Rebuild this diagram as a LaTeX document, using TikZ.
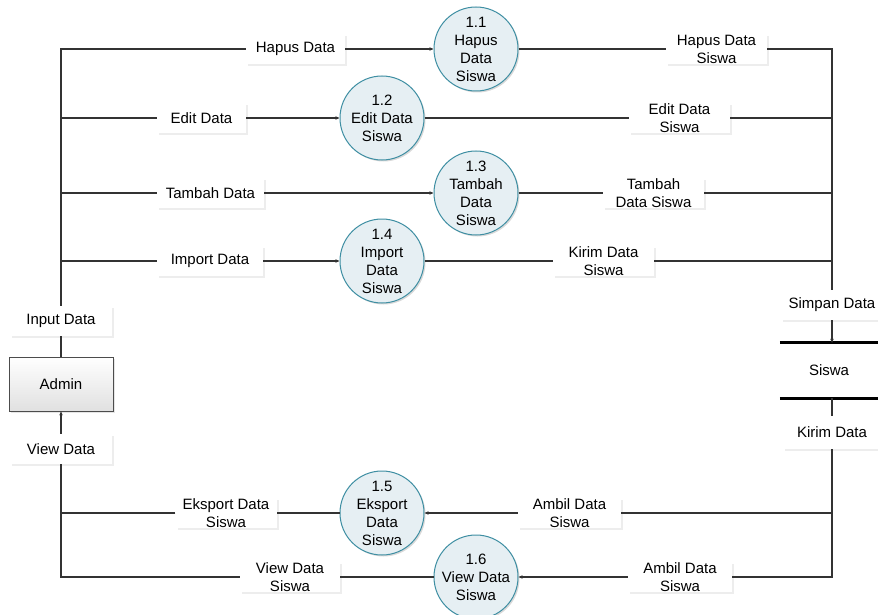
\documentclass[tikz,border=0pt]{standalone}
\usepackage{fontspec}
\setmainfont{Liberation Sans}
\usetikzlibrary{shadows,arrows.meta}
\definecolor{cfill}{HTML}{E6EFF3}
\definecolor{cdraw}{HTML}{3F8FA3}
\definecolor{lnc}{HTML}{333333}
\begin{document}
\begin{tikzpicture}[x=1pt,y=-1pt,font=\fontsize{15}{18}\selectfont,
  proc/.style={circle,fill=cfill,draw=cdraw,line width=1pt,minimum size=84pt,inner sep=0pt,align=center,
    drop shadow={shadow xshift=1.5pt,shadow yshift=-1.5pt,fill=black!15,opacity=1}},
  lbl/.style={fill=white,inner sep=0pt,minimum height=30pt,align=center,
    drop shadow={shadow xshift=2pt,shadow yshift=-2pt,fill=black!7,opacity=1}},
  flow/.style={draw=lnc,line width=1.1pt},
  arr/.style={flow,-{Stealth[length=4pt,width=3.5pt]}},
  ent/.style={draw=black!70,line width=0.8pt,top color=white,bottom color=black!12,minimum width=104pt,minimum height=54pt,
    drop shadow={shadow xshift=1.5pt,shadow yshift=-1.5pt,fill=black!10,opacity=1}}]
\useasboundingbox (0,0) rectangle (878,615);

% coordinates
\coordinate (cL1) at (61,49);
\coordinate (cL2) at (61,118);
\coordinate (cL3) at (61,193);
\coordinate (cL4) at (61,261);
\coordinate (cL5) at (61,513);
\coordinate (cL6) at (61,577);
\coordinate (cR1) at (832,49);
\coordinate (cR2) at (832,118);
\coordinate (cR3) at (832,193);
\coordinate (cR4) at (832,261);
\coordinate (cR5) at (832,513);
\coordinate (cR6) at (832,577);

% processes
\node[proc] (c11) at (476,49) {1.1\\Hapus\\Data\\Siswa};
\node[proc] (c12) at (382,118) {1.2\\Edit Data\\Siswa};
\node[proc] (c13) at (476,193) {1.3\\Tambah\\Data\\Siswa};
\node[proc] (c14) at (382,261) {1.4\\Import\\Data\\Siswa};
\node[proc] (c15) at (382,513) {1.5\\Eksport\\Data\\Siswa};
\node[proc] (c16) at (476,577) {1.6\\View Data\\Siswa};

% entity
\node[ent] (admin) at (61,384) {Admin};

% data store
\node[minimum width=98pt,minimum height=55pt,inner sep=0pt] (store) at (829,370.5) {Siswa};
\draw[line width=3pt] (store.north west) -- (store.north east);
\draw[line width=3pt] (store.south west) -- (store.south east);

% labels
\node[lbl,minimum width=99pt] (lHapus) at (295.5,49) {Hapus Data};
\node[lbl,minimum width=89pt] (lEdit) at (201.5,118) {Edit Data};
\node[lbl,minimum width=107pt] (lTambah) at (210.5,193) {Tambah Data};
\node[lbl,minimum width=106pt] (lImport) at (210,261) {Import Data};
\node[lbl,minimum width=102pt] (lInput) at (61,321) {Input Data};
\node[lbl,minimum width=102pt] (lView) at (61,449) {View Data};
\node[lbl,minimum width=101pt] (lEks) at (226,513) {Eksport Data\\Siswa};
\node[lbl,minimum width=100pt] (lViewS) at (290,577) {View Data\\Siswa};
\node[lbl,minimum width=101pt] (lHapusS) at (716.5,49) {Hapus Data\\Siswa};
\node[lbl,minimum width=101pt] (lEditS) at (679.5,118) {Edit Data\\Siswa};
\node[lbl,minimum width=101pt] (lTambahS) at (653.5,193) {Tambah\\Data Siswa};
\node[lbl,minimum width=101pt] (lKirimS) at (603.5,261) {Kirim Data\\Siswa};
\node[lbl,minimum width=103pt] (lAmbil1) at (569.5,513) {Ambil Data\\Siswa};
\node[lbl,minimum width=104pt] (lAmbil2) at (680,577) {Ambil Data\\Siswa};
\node[lbl,minimum width=102pt] (lSimpan) at (832,305) {Simpan Data};
\node[lbl,minimum width=98pt,minimum height=33pt] (lKirim) at (832,432.5) {Kirim Data};

% flows: admin up to processes
\draw[flow] (admin.north) -- (lInput.south);
\draw[flow] (lInput.north) -- (cL1) -- (lHapus);
\draw[flow] (cL2) -- (lEdit);
\draw[flow] (cL3) -- (lTambah);
\draw[flow] (cL4) -- (lImport);
\draw[arr] (lHapus) -- (c11);
\draw[arr] (lEdit) -- (c12);
\draw[arr] (lTambah) -- (c13);
\draw[arr] (lImport) -- (c14);
% processes to store
\draw[flow] (c11) -- (lHapusS);
\draw[flow] (c12) -- (lEditS);
\draw[flow] (c13) -- (lTambahS);
\draw[flow] (c14) -- (lKirimS);
\draw[flow] (lHapusS) -- (cR1) -- (lSimpan.north);
\draw[flow] (lEditS) -- (cR2);
\draw[flow] (lTambahS) -- (cR3);
\draw[flow] (lKirimS) -- (cR4);
\draw[arr] (lSimpan.south) -- (lSimpan.south |- store.north);
% store to processes
\draw[flow] (lKirim.north |- store.south) -- (lKirim.north);
\draw[flow] (lKirim.south) -- (cR6) -- (lAmbil2);
\draw[flow] (cR5) -- (lAmbil1);
\draw[arr] (lAmbil1) -- (c15);
\draw[arr] (lAmbil2) -- (c16);
% processes to admin
\draw[flow] (c15) -- (lEks);
\draw[flow] (c16) -- (lViewS);
\draw[flow] (lEks) -- (cL5);
\draw[flow] (lViewS) -- (cL6) -- (lView.south);
\draw[arr] (lView.north) -- (admin.south);
\end{tikzpicture}
\end{document}
